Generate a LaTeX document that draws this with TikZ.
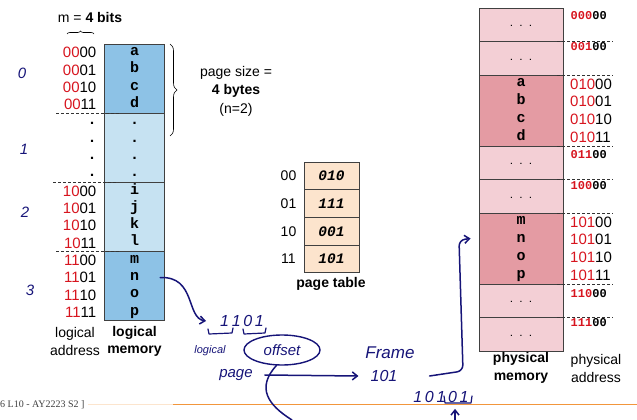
\documentclass[tikz,border=0pt]{standalone}
\usepackage{fontspec}
\setmainfont{Liberation Sans}
\setmonofont{Liberation Mono}
\newfontfamily\footfont{Liberation Serif}
\usepackage{xcolor}
\usetikzlibrary{arrows.meta, positioning, shapes.geometric, decorations.pathreplacing}

\definecolor{pagedark}{RGB}{141,194,230}
\definecolor{pagelight}{RGB}{198,226,242}
\definecolor{framedark}{RGB}{228,155,163}
\definecolor{framelight}{RGB}{243,207,213}
\definecolor{ptfill}{RGB}{252,228,205}
\definecolor{bitred}{RGB}{215,20,30}
\definecolor{ink}{RGB}{22,20,120}
\definecolor{slideorange}{RGB}{242,150,60}
\newcommand{\redbits}[1]{\textcolor{bitred}{#1}}

\begin{document}
\begin{tikzpicture}[x=1pt,y=-1pt,
  every node/.style={inner sep=0pt,font=\fontsize{14}{17.5}\selectfont},
  lpage/.style={draw=black!75,line width=0.8pt,minimum width=60.5pt},
  fpage/.style={draw=black!75,line width=0.8pt,minimum width=84pt},
  ptrow/.style={draw=black!75,line width=0.8pt,fill=ptfill,minimum width=55pt,minimum height=27.7pt,font=\fontsize{14.5}{15}\selectfont\ttfamily\bfseries\itshape},
  cell/.style={font=\fontsize{15}{16}\selectfont\ttfamily\bfseries,text height=9pt,text depth=3pt},
  dots/.style={font=\fontsize{8}{9}\selectfont\ttfamily\bfseries,text height=5pt,text depth=1.5pt},
  addr/.style={font=\fontsize{15}{16}\selectfont,text height=10.5pt,text depth=0pt},
  faddr/.style={anchor=west,font=\fontsize{12}{13}\selectfont\ttfamily\bfseries,text height=7pt,text depth=0pt},
  sep/.style={dash pattern=on 3pt off 2pt,line width=0.6pt,black!80},
  hw/.style={text=ink,font=\fontsize{15}{16}\selectfont\itshape},
  hand/.style={draw=ink,line width=1.5pt,line cap=round,line join=round},
  handto/.style={hand,-{Straight Barb[length=5pt,width=8pt]}}
]
\useasboundingbox (0,0) rectangle (637,420);
% logical memory
\node (mbits) at (90,17) {m = \textbf{4 bits}};
\draw[decorate,decoration={brace,amplitude=3pt},line width=0.6pt] (67,34) -- (94,34);
\node[lpage,fill=pagedark,minimum height=69.2pt] (lp0) at (134.5,78.6) {};
\node[lpage,fill=pagelight,minimum height=69.2pt] (lp1) at (134.5,147.8) {};
\node[lpage,fill=pagelight,minimum height=69.2pt] (lp2) at (134.5,217) {};
\node[lpage,fill=pagedark,minimum height=69.2pt] (lp3) at (134.5,286.2) {};
\node[cell] (la) at (134.5,52.65) {a};
\node[cell] (lb) at (134.5,69.95) {b};
\node[cell] (lc) at (134.5,87.25) {c};
\node[cell] (ld) at (134.5,104.55) {d};
\node[cell] (le) at (134.5,121.85) {.};
\node[cell] (lf) at (134.5,139.15) {.};
\node[cell] (lg) at (134.5,156.45) {.};
\node[cell] (lh) at (134.5,173.75) {.};
\node[cell] (li) at (134.5,191.05) {i};
\node[cell] (lj) at (134.5,208.35) {j};
\node[cell] (lk) at (134.5,225.65) {k};
\node[cell] (ll) at (134.5,242.95) {l};
\node[cell] (lm) at (134.5,260.25) {m};
\node[cell] (ln) at (134.5,277.55) {n};
\node[cell] (lo) at (134.5,294.85) {o};
\node[cell] (lq) at (134.5,312.15) {p};
% logical addresses
\node[addr,anchor=east] (a0) at (96.5,52.65) {\redbits{00}00};
\node[addr,anchor=east] (a1) at (96.5,69.95) {\redbits{00}01};
\node[addr,anchor=east] (a2) at (96.5,87.25) {\redbits{00}10};
\node[addr,anchor=east] (a3) at (96.5,104.55) {\redbits{00}11};
\node[cell] (a4) at (92,121.85) {.};
\node[cell] (a5) at (92,139.15) {.};
\node[cell] (a6) at (92,156.45) {.};
\node[cell] (a7) at (92,173.75) {.};
\node[addr,anchor=east] (a8) at (96.5,191.05) {\redbits{10}00};
\node[addr,anchor=east] (a9) at (96.5,208.35) {\redbits{10}01};
\node[addr,anchor=east] (a10) at (96.5,225.65) {\redbits{10}10};
\node[addr,anchor=east] (a11) at (96.5,242.95) {\redbits{10}11};
\node[addr,anchor=east] (a12) at (96.5,260.25) {\redbits{11}00};
\node[addr,anchor=east] (a13) at (96.5,277.55) {\redbits{11}01};
\node[addr,anchor=east] (a14) at (96.5,294.85) {\redbits{11}10};
\node[addr,anchor=east] (a15) at (96.5,312.15) {\redbits{11}11};
\draw[sep] (56,113.2) -- (120,113.2);
\draw[sep] (53,182.4) -- (118,182.4);
\draw[sep] (56,251.6) -- (120,251.6);
\node[align=center] (laddr) at (75,341.5) {logical\\address};
\node[align=center,font=\fontsize{14}{17.5}\selectfont\bfseries] (lmem) at (134.5,341.5) {logical\\memory};
% page size
\draw[decorate,decoration={brace,amplitude=7pt},line width=0.6pt] (170,44) -- (170,136);
\node[align=center,font=\fontsize{14}{18.5}\selectfont] (psize) at (236,91) {page size =\\\textbf{4 bytes}\\(n=2)};
% page table
\node[ptrow] (pt0) at (331.5,175.85) {010};
\node[ptrow] (pt1) at (331.5,203.55) {111};
\node[ptrow] (pt2) at (331.5,231.25) {001};
\node[ptrow] (pt3) at (331.5,258.95) {101};
\node (pi0) at (288.5,176) {00};
\node (pi1) at (288.5,204) {01};
\node (pi2) at (288.5,231.5) {10};
\node (pi3) at (288.5,259) {11};
\node[font=\fontsize{14}{17}\selectfont\bfseries] (ptab) at (331,283.5) {page table};
% physical memory
\node[fpage,fill=framelight,minimum height=33.5pt] (f0) at (521,24.75) {};
\node[fpage,fill=framelight,minimum height=33.5pt] (f1) at (521,58.25) {};
\node[fpage,fill=framedark,minimum height=71pt] (f2) at (521,110.5) {};
\node[fpage,fill=framelight,minimum height=33.5pt] (f3) at (521,162.75) {};
\node[fpage,fill=framelight,minimum height=33.5pt] (f4) at (521,196.25) {};
\node[fpage,fill=framedark,minimum height=71pt] (f5) at (521,248.5) {};
\node[fpage,fill=framelight,minimum height=33.5pt] (f6) at (521,300.75) {};
\node[fpage,fill=framelight,minimum height=33.5pt] (f7) at (521,334.25) {};
\node[dots] at (f0) {. . .};
\node[dots] at (f1) {. . .};
\node[dots] at (f3) {. . .};
\node[dots] at (f4) {. . .};
\node[dots] at (f6) {. . .};
\node[dots] at (f7) {. . .};
\node[cell] (pa) at (521,83.9) {a};
\node[cell] (pb) at (521,101.65) {b};
\node[cell] (pc) at (521,119.4) {c};
\node[cell] (pd) at (521,137.15) {d};
\node[cell] (pm) at (521,221.9) {m};
\node[cell] (pn) at (521,239.65) {n};
\node[cell] (po) at (521,257.4) {o};
\node[cell] (pp) at (521,275.15) {p};
% physical addresses
\node[faddr] (b0) at (570.5,16) {\redbits{000}00};
\node[faddr] (b4) at (570.5,47.5) {\redbits{001}00};
\node[addr,anchor=west] (b8) at (570,83.9) {\redbits{010}00};
\node[addr,anchor=west] (b9) at (570,101.65) {\redbits{010}01};
\node[addr,anchor=west] (b10) at (570,119.4) {\redbits{010}10};
\node[addr,anchor=west] (b11) at (570,137.15) {\redbits{010}11};
\node[faddr] (b12) at (570.5,155) {\redbits{011}00};
\node[faddr] (b16) at (570.5,186) {\redbits{100}00};
\node[addr,anchor=west] (b20) at (570,221.9) {\redbits{101}00};
\node[addr,anchor=west] (b21) at (570,239.65) {\redbits{101}01};
\node[addr,anchor=west] (b22) at (570,257.4) {\redbits{101}10};
\node[addr,anchor=west] (b23) at (570,275.15) {\redbits{101}11};
\node[faddr] (b24) at (570.5,294) {\redbits{110}00};
\node[faddr] (b28) at (570.5,323) {\redbits{111}00};
\draw[sep] (557,41.5) -- (613,41.5);
\draw[sep] (557,75) -- (613,75);
\draw[sep] (557,146) -- (613,146);
\draw[sep] (557,179.5) -- (613,179.5);
\draw[sep] (557,213) -- (613,213);
\draw[sep] (557,284) -- (613,284);
\draw[sep] (557,317.5) -- (613,317.5);
\node[align=center,font=\fontsize{14}{18}\selectfont\bfseries] (pmem) at (521,368) {physical\\memory};
\node[align=center,font=\fontsize{14}{18}\selectfont] (paddr) at (596,368) {physical\\address};
% footer
\node[anchor=west,font=\footfont\fontsize{10}{11}\selectfont,text=black!75] (foot) at (0,405) {6 L10 - AY2223 S2 ]};
\draw[line width=1.2pt,slideorange!25] (88,404.5) -- (173,404.5);
\draw[line width=1.2pt,slideorange] (173,404.5) -- (637,404.5);
% hand notes
\node[hw] (n0) at (22,73) {0};
\node[hw] (n1) at (24,149) {1};
\node[hw] (n2) at (25,212) {2};
\node[hw] (n3) at (30,290) {3};
\node[hw,font=\fontsize{16}{17}\selectfont\itshape] (hbits) at (242,321) {1\,1\,0\,1};
\draw[handto] ([xshift=21pt]ln.east) .. controls (196,276) and (186,318) .. ([xshift=-14pt]hbits.west);
\draw[hand,line width=1.2pt] (208,329) -- (209,334) -- (232,333) -- (233,328);
\draw[hand,line width=1.2pt] (243,329) -- (244,334) -- (265,333) -- (266,328);
\node[hw,font=\fontsize{11}{12}\selectfont\itshape] (hlog) at (210,351) {logical};
\node[hw] (hpage) at (236,375) {page};
\node[hw,draw=ink,ellipse,line width=1.4pt,minimum width=76pt,minimum height=30pt] (hoff) at (282,350) {offset};
\coordinate (hdown) at (292,420);
\draw[hand] (hoff.250) .. controls (256,388) and (268,405) .. (hdown);
\node[hw,font=\fontsize{17}{18}\selectfont\itshape] (hframe) at (390,353) {Frame};
\node[hw,font=\fontsize{16}{17}\selectfont\itshape] (hfnum) at (384,376) {101};
\draw[handto] ([xshift=12pt]hpage.east) -- ([xshift=-12pt]hfnum.west);
\draw[handto,rounded corners=6pt] ([xshift=32pt]hfnum.east) -- (463,371) -- (459,240) -- ([xshift=-8pt,yshift=10pt]f5.west);
\node[hw,font=\fontsize{16}{17}\selectfont\itshape] (hphys) at (441,397) {1\,0\,1\,0\,1};
\draw[hand,line width=1.2pt] (444,396) -- (445,403) -- (471,403) -- (472,396);
\coordinate (hup) at (455,420);
\draw[handto] (hup) -- ([xshift=14pt,yshift=-6pt]hphys.south);
\end{tikzpicture}
\end{document}
